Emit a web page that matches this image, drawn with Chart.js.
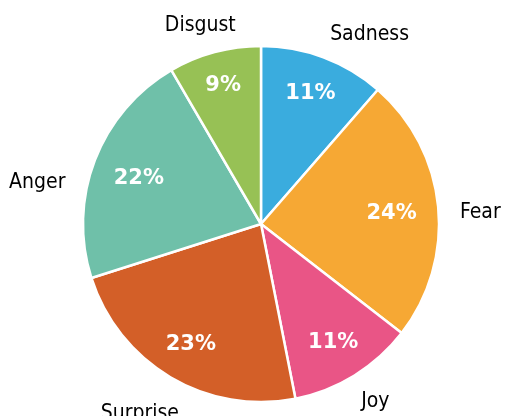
<!DOCTYPE html>
<html>
<head>
<meta charset="utf-8">
<script src="https://cdn.jsdelivr.net/npm/chart.js@4/dist/chart.umd.min.js"></script>
<style>
  body { margin: 0; background: #fff; }
</style>
</head>
<body>
<canvas id="pieChart" width="505" height="416"></canvas>
<script>
const emotions = ["Sadness", "Fear", "Joy", "Surprise", "Anger", "Disgust"];
const shares = [11.4, 24.1, 11.4, 23.2, 21.5, 8.4];
const shareLabels = ["11%", "24%", "11%", "23%", "22%", "9%"];
const colors = ["#3aacde", "#f6a834", "#e95586", "#d35f28", "#6fc0a9", "#97c155"];

// small angle nudges (degrees) for the outer names, as in the original layout
const nameShift = { Sadness: 9, Fear: 2, Joy: -1.5, Surprise: 2.4, Anger: -10, Disgust: -1.7 };

const sliceLabels = {
    id: "sliceLabels",
    afterDatasetsDraw(chart) {
        const ctx = chart.ctx;
        const meta = chart.getDatasetMeta(0);
        ctx.save();
        meta.data.forEach((arc, i) => {
            const p = arc.getProps(["x", "y", "startAngle", "endAngle", "outerRadius"], true);
            const mid = (p.startAngle + p.endAngle) / 2;

            // percentage inside the slice
            ctx.font = "bold 21px 'DejaVu Sans'";
            let w = ctx.measureText(shareLabels[i]).width;
            let h = 15;
            let ext = Math.abs(Math.cos(mid)) * w / 2 + Math.abs(Math.sin(mid)) * h / 2;
            let r = p.outerRadius - 21 - ext;
            ctx.fillStyle = "#fff";
            ctx.textAlign = "center";
            ctx.textBaseline = "alphabetic";
            ctx.fillText(shareLabels[i], p.x + Math.cos(mid) * r, p.y + Math.sin(mid) * r + h / 2);

            // emotion name outside
            const a = mid + (nameShift[emotions[i]] || 0) * Math.PI / 180;
            ctx.font = "21px 'DejaVu Sans Condensed', 'DejaVu Sans'";
            w = ctx.measureText(emotions[i]).width;
            h = 16;
            ext = Math.abs(Math.cos(a)) * w / 2 + Math.abs(Math.sin(a)) * h / 2;
            r = p.outerRadius + 11 + 10 * Math.abs(Math.cos(a)) + ext;
            ctx.fillStyle = "#000";
            ctx.fillText(emotions[i], p.x + Math.cos(a) * r, p.y + Math.sin(a) * r + h / 2);
        });
        ctx.restore();
    }
};

new Chart(document.getElementById("pieChart"), {
    type: "pie",
    data: {
        labels: emotions,
        datasets: [{
            data: shares,
            backgroundColor: colors,
            borderColor: "#fff",
            borderWidth: 2.5
        }]
    },
    options: {
        responsive: false,
        animation: false,
        radius: 178,
        layout: { padding: { left: 83, right: 66, top: 46, bottom: 14 } },
        plugins: {
            legend: { display: false },
            tooltip: { enabled: false }
        }
    },
    plugins: [sliceLabels]
});
</script>
</body>
</html>
